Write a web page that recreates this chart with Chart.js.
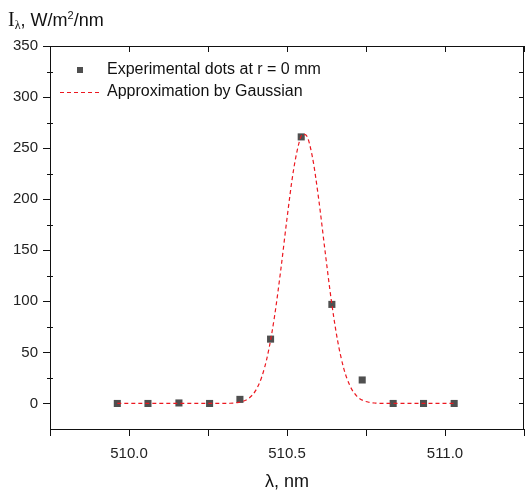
<!DOCTYPE html>
<html>
<head>
<meta charset="utf-8">
<script src="https://cdn.jsdelivr.net/npm/chart.js@4.4.1/dist/chart.umd.min.js"></script>
<style>
  html, body { margin: 0; padding: 0; background: #fff; }
  #wrap { position: relative; width: 526px; height: 493px; }
  #ytitle {
    position: absolute; left: 8px; top: 8px;
    font-family: 'Liberation Sans', Arial, sans-serif; font-size: 18px; color: #111;
    white-space: nowrap;
  }
  #ytitle .i { font-family: 'Liberation Serif', 'Times New Roman', serif; font-size: 20px; }
  #ytitle sub { font-family: 'Liberation Serif', serif; font-size: 12px; vertical-align: -3px; }
  #ytitle sup { font-size: 11px; vertical-align: 7px; }
</style>
</head>
<body>
<div id="wrap">
  <canvas id="spectrumChart" width="526" height="493"></canvas>
  <div id="ytitle"><span class="i">I</span><sub>λ</sub>, W/m<sup>2</sup>/nm</div>
</div>
<script>
// ── Data ──────────────────────────────────

// experimental dots, λ in nm and I in W/m²/nm
const dotLambda = [509.963, 510.060, 510.158, 510.255, 510.351, 510.448,
                   510.545, 510.642, 510.738, 510.836, 510.932, 511.029];
const dotValues = [0, 0, 0.5, 0, 4, 63, 261, 97, 23, 0, 0, 0];

// gaussian approximation
const fitLambda = [509.963, 510.10, 510.20, 510.26, 510.30, 510.32, 510.34, 510.36,
                   510.38, 510.40, 510.42, 510.44, 510.46, 510.48, 510.50, 510.52,
                   510.54, 510.55, 510.56, 510.58, 510.60, 510.62, 510.64, 510.66,
                   510.68, 510.70, 510.72, 510.74, 510.76, 510.78, 510.80, 510.84,
                   510.90, 511.029];
const fitValues = [0, 0, 0, 0, 0.1, 0.2, 0.7, 2.0,
                   5.3, 12.3, 25.9, 49.2, 84.2, 130.0, 181.1, 227.3,
                   257.4, 263.5, 262.8, 241.9, 200.8, 150.3, 101.5, 61.7,
                   33.9, 16.8, 7.5, 3.0, 1.1, 0.4, 0.1, 0,
                   0, 0];

const xTickLabels = [510.0, 510.5, 511.0];
const yTickLabels = [0, 50, 100, 150, 200, 250, 300, 350];

const legendLabels = ['Experimental dots at r = 0 mm', 'Approximation by Gaussian'];

// ── Helpers ───────────────────────────────

const FONT = "'Liberation Sans', Arial, sans-serif";
const DOT_COLOR = '#4f4f4f';
const FIT_COLOR = 'rgb(236,24,32)';

function toPoints(xs, ys) {
  return xs.map((x, i) => ({ x: x, y: ys[i] }));
}

function isMajorY(v) { return yTickLabels.includes(v); }

// frame with inward ticks on top / right, minor y ticks, plus the legend
const framePlugin = {
  id: 'frame',
  afterDraw(chart) {
    const { ctx, chartArea: a, scales } = chart;
    ctx.save();
    ctx.strokeStyle = '#111';
    ctx.lineWidth = 1;
    ctx.beginPath();
    ctx.moveTo(a.left, a.top + 0.5);
    ctx.lineTo(a.right - 0.5, a.top + 0.5);
    ctx.lineTo(a.right - 0.5, a.bottom);
    ctx.stroke();

    ctx.beginPath();
    scales.x.ticks.forEach(t => {
      const px = Math.round(scales.x.getPixelForValue(t.value)) + 0.5;
      ctx.moveTo(px, a.top);
      ctx.lineTo(px, a.top + 6);
    });
    scales.y.ticks.forEach(t => {
      const py = Math.round(scales.y.getPixelForValue(t.value)) + 0.5;
      ctx.moveTo(a.right, py);
      ctx.lineTo(a.right - 5, py);
      if (!isMajorY(t.value) && t.value > -25) {
        ctx.moveTo(a.left - 3, py);
        ctx.lineTo(a.left + 3, py);
      }
    });
    ctx.stroke();

    // legend
    const lx = a.left + 30, ly1 = a.top + 24, ly2 = a.top + 46;
    ctx.fillStyle = DOT_COLOR;
    ctx.fillRect(lx - 3, ly1 - 3, 6, 6);
    ctx.strokeStyle = FIT_COLOR;
    ctx.setLineDash([4, 3]);
    ctx.beginPath();
    ctx.moveTo(a.left + 10, ly2 + 0.5);
    ctx.lineTo(a.left + 52, ly2 + 0.5);
    ctx.stroke();
    ctx.setLineDash([]);
    ctx.fillStyle = '#111';
    ctx.font = '16px ' + FONT;
    ctx.textBaseline = 'middle';
    ctx.fillText(legendLabels[0], a.left + 57, ly1);
    ctx.fillText(legendLabels[1], a.left + 57, ly2);
    ctx.restore();
  }
};

// ── Chart Setup ──────────────────────────

const ctx = document.getElementById('spectrumChart').getContext('2d');
const chart = new Chart(ctx, {
  type: 'scatter',
  data: {
    datasets: [
      {
        label: legendLabels[0],
        data: toPoints(dotLambda, dotValues),
        pointStyle: 'rect',
        pointRadius: 5,
        backgroundColor: DOT_COLOR,
        borderWidth: 0,
        order: 1
      },
      {
        label: legendLabels[1],
        type: 'line',
        data: toPoints(fitLambda, fitValues),
        borderColor: FIT_COLOR,
        borderWidth: 1.2,
        borderDash: [4, 3],
        pointRadius: 0,
        cubicInterpolationMode: 'monotone',
        fill: false,
        order: 0
      }
    ]
  },
  options: {
    responsive: false,
    animation: false,
    layout: { autoPadding: false, padding: { top: 46, right: 2, left: 0, bottom: 0 } },
    plugins: {
      legend: { display: false },
      tooltip: { enabled: false }
    },
    scales: {
      x: {
        type: 'linear',
        min: 509.75,
        max: 511.25,
        afterBuildTicks(scale) {
          const t = [];
          for (let v = 509.75; v <= 511.2501; v += 0.25) t.push({ value: +v.toFixed(2) });
          scale.ticks = t;
        },
        afterFit(scale) {
          scale.height = 64;
          scale.paddingLeft = 0;
          scale.paddingRight = 0;
        },
        ticks: {
          color: '#222',
          font: { family: FONT, size: 15 },
          padding: 9,
          maxRotation: 0,
          autoSkip: false,
          callback: v => xTickLabels.includes(v) ? v.toFixed(1) : ''
        },
        grid: {
          drawOnChartArea: false,
          drawTicks: true,
          tickLength: 7,
          tickColor: '#111'
        },
        border: { color: '#111', width: 1 },
        title: {
          display: true,
          text: 'λ, nm',
          color: '#111',
          font: { family: FONT, size: 18 },
          padding: { top: 4, bottom: 0 }
        }
      },
      y: {
        min: -25,
        max: 350,
        afterBuildTicks(scale) {
          const t = [];
          for (let v = -25; v <= 350; v += 25) t.push({ value: v });
          scale.ticks = t;
        },
        afterFit(scale) {
          scale.width = 50;
          scale.paddingTop = 0;
          scale.paddingBottom = 0;
        },
        ticks: {
          color: '#222',
          font: { family: FONT, size: 15 },
          padding: 5,
          autoSkip: false,
          callback: v => isMajorY(v) ? String(v) : ''
        },
        grid: {
          drawOnChartArea: false,
          drawTicks: true,
          tickLength: 7,
          tickColor: c => isMajorY(c.tick.value) ? '#111' : 'rgba(0,0,0,0)'
        },
        border: { color: '#111', width: 1 }
      }
    }
  },
  plugins: [framePlugin]
});
</script>
</body>
</html>
